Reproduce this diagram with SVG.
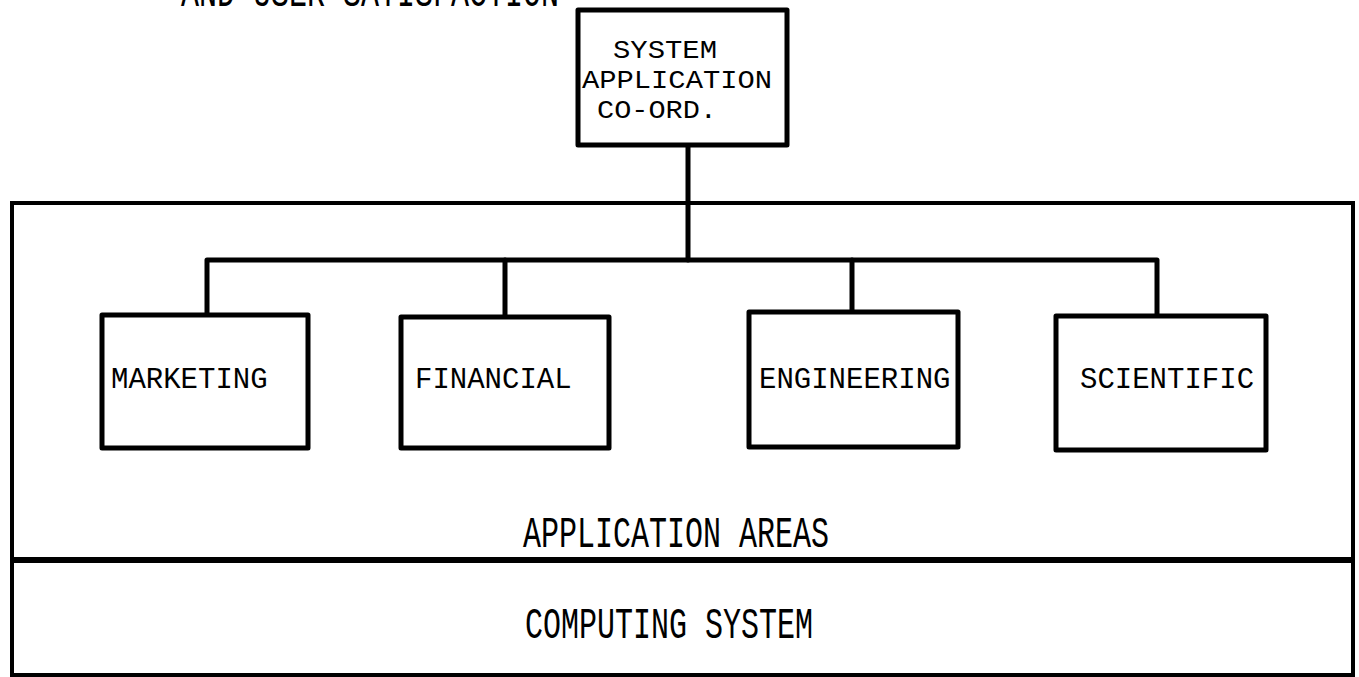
<svg xmlns="http://www.w3.org/2000/svg" width="1359" height="677" viewBox="0 0 1359 677">
<style>
.box{fill:#fff;stroke:#000;stroke-width:5;stroke-linejoin:round}
.frame{fill:none;stroke:#000;stroke-width:4}
.conn{fill:none;stroke:#000;stroke-width:5;stroke-linejoin:round;stroke-linecap:round}
.lbl{font-family:"Liberation Mono","Courier New",monospace;font-size:29px;fill:#000}
.top{font-family:"Liberation Mono","Courier New",monospace;font-size:26px;fill:#000}
.big{font-family:"Liberation Mono","DejaVu Sans Mono",monospace;font-size:44px;fill:#000}
</style>
<rect width="1359" height="677" fill="#fff"/>
<text class="big" x="181" y="6" textLength="378" lengthAdjust="spacingAndGlyphs">AND USER SATISFACTION</text>
<g id="layers">
<rect class="frame" x="12" y="203" width="1341" height="472"/>
<line x1="12" y1="560" x2="1353" y2="560" stroke="#000" stroke-width="6"/>
</g>
<g id="connectors">
<path class="conn" d="M688,145 V260"/>
<path class="conn" d="M207,315 V260 H1157 V316"/>
<path class="conn" d="M505,260 V317"/>
<path class="conn" d="M852,260 V312"/>
</g>
<g id="sys-coord">
<rect class="box" x="578" y="10" width="209" height="135"/>
<text class="top" x="613" y="58" textLength="104" lengthAdjust="spacingAndGlyphs">SYSTEM</text>
<text class="top" x="582" y="88" textLength="190" lengthAdjust="spacingAndGlyphs">APPLICATION</text>
<text class="top" x="597" y="118" textLength="120" lengthAdjust="spacingAndGlyphs">CO-ORD.</text>
</g>
<g id="marketing">
<rect class="box" x="102" y="315" width="206" height="133"/>
<text class="lbl" x="111" y="388">MARKETING</text>
</g>
<g id="financial">
<rect class="box" x="401" y="317" width="208" height="131"/>
<text class="lbl" x="415" y="388">FINANCIAL</text>
</g>
<g id="engineering">
<rect class="box" x="749" y="312" width="209" height="135"/>
<text class="lbl" x="759" y="388">ENGINEERING</text>
</g>
<g id="scientific">
<rect class="box" x="1056" y="316" width="210" height="134"/>
<text class="lbl" x="1080" y="388">SCIENTIFIC</text>
</g>
<g id="application-areas">
<text class="big" x="523" y="547" textLength="306" lengthAdjust="spacingAndGlyphs">APPLICATION AREAS</text>
</g>
<g id="computing-system">
<text class="big" x="525" y="638" textLength="288" lengthAdjust="spacingAndGlyphs">COMPUTING SYSTEM</text>
</g>
</svg>
